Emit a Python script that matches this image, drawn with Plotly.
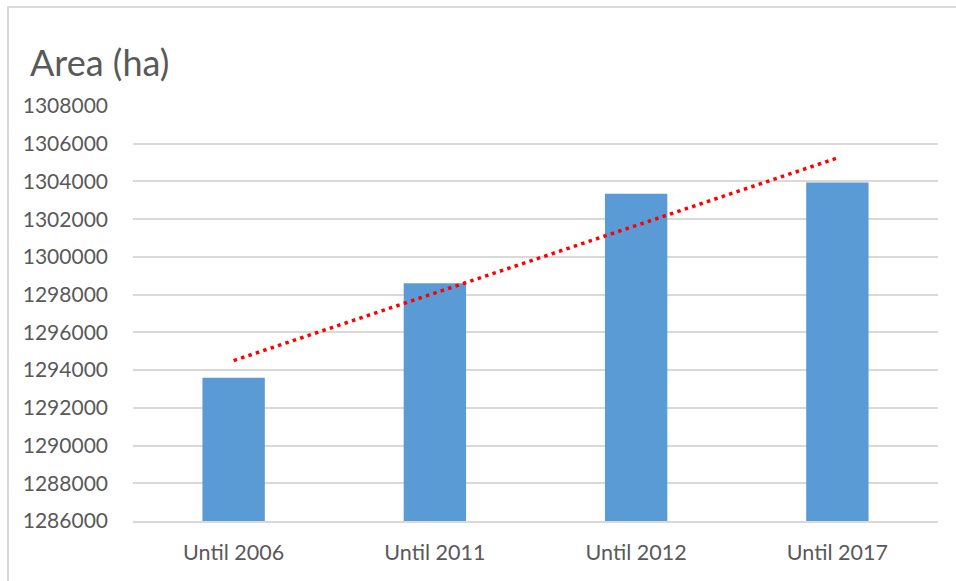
import numpy as np
import plotly.graph_objects as go

# Data
categories = ["Until 2006", "Until 2011", "Until 2012", "Until 2017"]
area_ha = [1293600, 1298600, 1303350, 1303950]
tick_values = list(range(1286000, 1308001, 2000))
tick_labels = [str(v) for v in tick_values]

# Linear trendline over category index
idx = np.arange(1, len(area_ha) + 1)
slope, intercept = np.polyfit(idx, area_ha, 1)
trend = slope * idx + intercept

W, H = 956, 581
ML, MR, MT, MB = 133, 18, 106, 60
pw, ph = W - ML - MR, H - MT - MB

def px_x(p):
    return (p - ML) / pw

def px_y(p):
    return (H - MB - p) / ph

FONT = "Lato"
TXT = "#595959"

fig = go.Figure()
fig.add_trace(go.Bar(
    x=categories, y=area_ha,
    marker=dict(color="#5B9BD5", line=dict(width=0)),
    width=0.31, showlegend=False,
))
fig.add_trace(go.Scatter(
    x=categories, y=trend, mode="lines",
    line=dict(color="#FF0000", width=3.5, dash="3.5px,4.3px"),
    showlegend=False, hoverinfo="skip",
))

fig.update_layout(
    width=W, height=H,
    margin=dict(l=ML, r=MR, t=MT, b=MB),
    paper_bgcolor="white", plot_bgcolor="white",
    font=dict(family=FONT, color=TXT, size=21),
    xaxis=dict(
        showgrid=False, showline=True, linecolor="#D9D9D9", linewidth=2,
        ticks="", tickfont=dict(size=21.5, color=TXT), ticklabelstandoff=11,
    ),
    yaxis=dict(
        range=[1286000, 1308000], tickvals=tick_values, ticktext=tick_labels,
        showgrid=True, gridcolor="#D9D9D9", gridwidth=2,
        zeroline=False, showline=False, ticks="",
        tickfont=dict(size=21, color=TXT), ticklabelstandoff=24,
    ),
    annotations=[dict(
        text="Area (ha)", xref="paper", yref="paper",
        x=px_x(28), y=px_y(62), xanchor="left", yanchor="middle",
        showarrow=False, font=dict(size=36, color=TXT, family=FONT),
    )],
    shapes=[dict(
        type="rect", xref="paper", yref="paper",
        x0=px_x(8), x1=px_x(970), y0=px_y(7), y1=px_y(600),
        line=dict(color="#D9D9D9", width=2), layer="below",
    )],
)

fig.write_html("out.html")
